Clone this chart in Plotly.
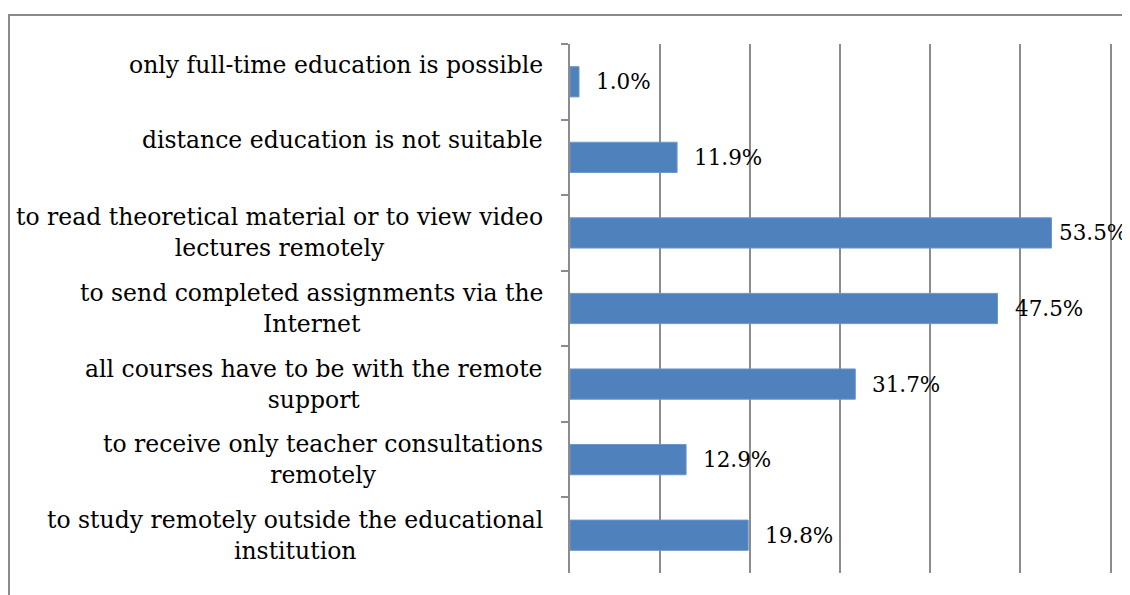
import plotly.graph_objects as go

categories = [
    "only full-time education is possible",
    "distance education is not suitable",
    "to read theoretical material or to view video<br>lectures remotely",
    "to send completed assignments via the<br>Internet",
    "all courses have to be with the remote<br>support",
    "to receive only teacher consultations<br>remotely",
    "to study remotely outside the educational<br>institution",
]
values = [1.0, 11.9, 53.5, 47.5, 31.7, 12.9, 19.8]
value_labels = ["1.0%", "11.9%", "53.5%", "47.5%", "31.7%", "12.9%", "19.8%"]

FONT = "DejaVu Serif"
GRID = "#8c8c8c"
ids = list(range(len(categories)))

fig = go.Figure()
fig.add_trace(go.Bar(
    x=values, y=ids, orientation="h", width=0.4,
    marker=dict(color="#4f81bd", line=dict(color="#6b97cc", width=1)),
    hoverinfo="skip",
))

annotations = []
for i, (lab, v, vl) in enumerate(zip(categories, values, value_labels)):
    single = "<br>" not in lab
    annotations.append(dict(
        x=0, xref="paper", y=i, yref="y", text=lab, showarrow=False,
        xanchor="right", yanchor="middle", align="center",
        xshift=-25, yshift=17 if single else 0,
        font=dict(family=FONT, size=23.5, color="#000000"),
    ))
    annotations.append(dict(
        x=v, xref="x", y=i, yref="y", text=vl, showarrow=False,
        xanchor="left", yanchor="middle",
        xshift=15 if v < 50 else 5,
        font=dict(family=FONT, size=21.5, color="#000000"),
    ))

fig.update_layout(
    width=1122, height=587,
    margin=dict(l=562, r=20, t=36, b=22),
    paper_bgcolor="white", plot_bgcolor="white",
    showlegend=False,
    bargap=0.6,
    xaxis=dict(range=[0, 60], dtick=10, showgrid=True, gridcolor=GRID, gridwidth=1.5,
               showticklabels=False, zeroline=False, showline=False, ticks=""),
    yaxis=dict(type="category", autorange="reversed", showticklabels=False,
               ticks="outside", tickson="boundaries", ticklen=7, tickcolor=GRID, tickwidth=1.5,
               showline=True, mirror=True, linecolor=GRID, linewidth=1.5,
               showgrid=False, zeroline=False),
    annotations=annotations,
    shapes=[dict(type="rect", xref="paper", yref="paper",
                 x0=-1.0389, x1=1.2, y0=-0.2, y1=1.055,
                 line=dict(color="#8a8a8a", width=2), fillcolor="rgba(0,0,0,0)", layer="below")],
)

fig.write_html("out.html")
